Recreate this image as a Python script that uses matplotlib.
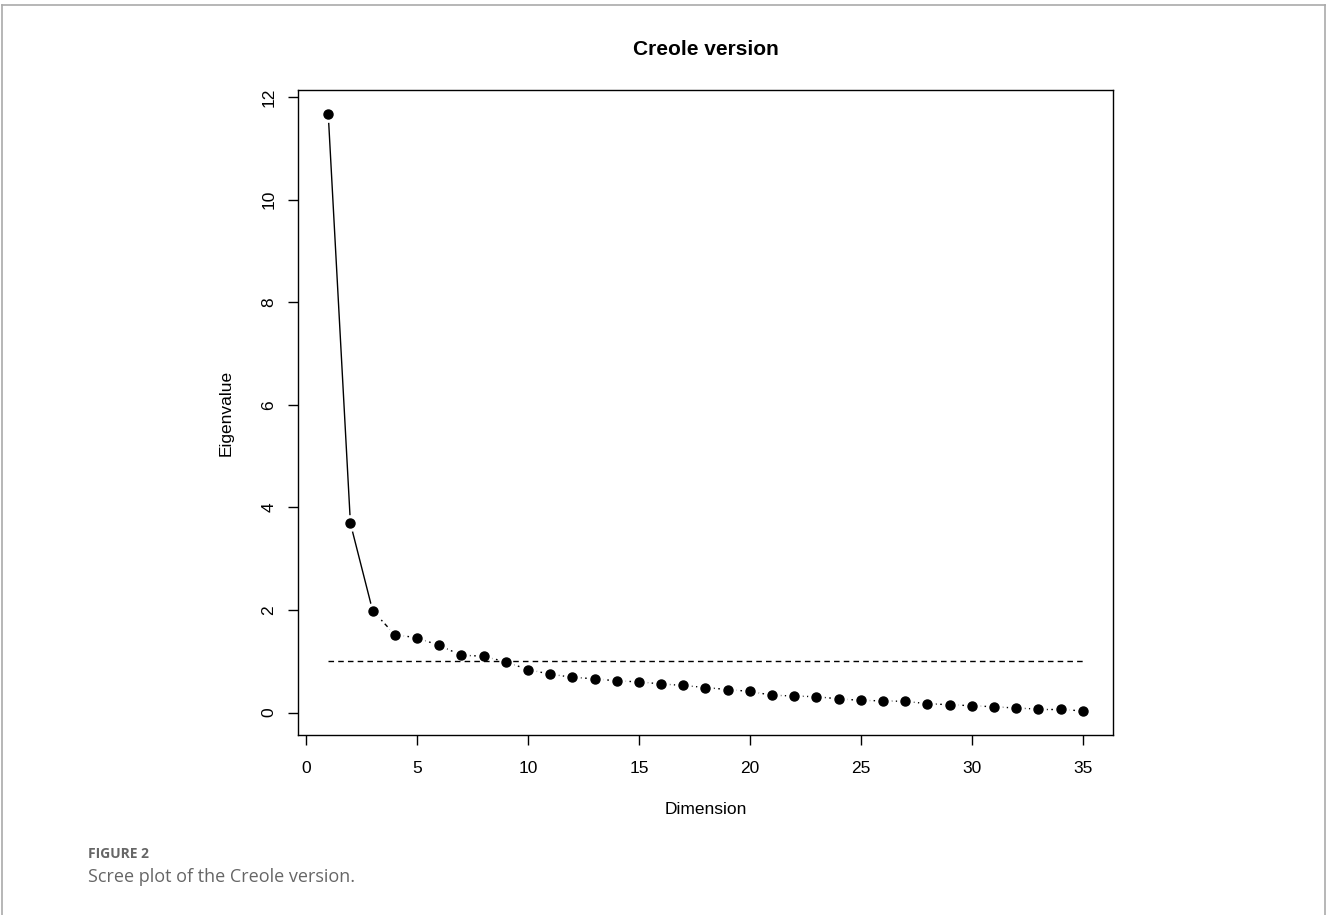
import numpy as np
import matplotlib
matplotlib.use('Agg')
import matplotlib.pyplot as plt
from matplotlib.lines import Line2D

plt.rcParams['font.family'] = ['Liberation Sans', 'DejaVu Sans']

# 数据：特征值
dimension = list(range(1, 36))
eigenvalue = [11.67, 3.69, 1.99, 1.52, 1.46, 1.31, 1.12, 1.10, 0.99, 0.84,
              0.75, 0.69, 0.66, 0.62, 0.60, 0.56, 0.53, 0.49, 0.45, 0.415,
              0.34, 0.325, 0.31, 0.27, 0.24, 0.23, 0.22, 0.175, 0.155, 0.135,
              0.115, 0.09, 0.07, 0.07, 0.03]
cutoff = 1.0
x_ticks = [0, 5, 10, 15, 20, 25, 30, 35]
y_ticks = [0, 2, 4, 6, 8, 10, 12]
title = 'Creole version'
x_label = 'Dimension'
y_label = 'Eigenvalue'
fig_label = 'FIGURE 2'
caption = 'Scree plot of the Creole version.'

fig = plt.figure(figsize=(13.27, 9.15), dpi=100)
ax = fig.add_axes([0.2246, 0.1967, 0.6141, 0.7049])

x = np.array(dimension)
y = np.array(eigenvalue)
# 前两段实线，其余点划线（R type="b" 的效果）
for i in range(len(x) - 1):
    ls = '-' if i < 2 else (0, (1.2, 2.5, 3, 2.5))
    ax.plot(x[i:i+2], y[i:i+2], color='black', lw=1.0, ls=ls, zorder=1)
ax.plot(x, y, 'o', ms=11, color='white', mec='white', zorder=2)
ax.hlines(cutoff, x[0], x[-1], colors='black', lw=1.0, linestyles=(0, (4, 3)), zorder=2.5)
ax.plot(x, y, 'o', ms=6.5, color='black', zorder=3)

xr = x.max() - x.min()
yr = y.max() - y.min()
ax.set_xlim(x.min() - 0.04 * xr, x.max() + 0.04 * xr)
ax.set_ylim(y.min() - 0.04 * yr, y.max() + 0.04 * yr)
ax.set_xticks(x_ticks)
ax.set_yticks(y_ticks)
ax.set_yticklabels([str(v) for v in y_ticks], rotation=90, va='center')
ax.tick_params(direction='out', length=7, width=1, labelsize=12.5)
ax.tick_params(axis='x', pad=11.5)
ax.tick_params(axis='y', pad=8.5)
for s in ax.spines.values():
    s.set_linewidth(1.0)

ax.set_title(title, fontsize=15, fontweight='bold', pad=25)
ax.set_xlabel(x_label, fontsize=12.5, labelpad=19)
ax.set_ylabel(y_label, fontsize=12.5, labelpad=20)

fig.text(88 / 1327, 1 - 854 / 915, fig_label, fontsize=10, color='#666666',
         fontweight='bold', family=['Open Sans', 'DejaVu Sans'], va='center')
fig.text(88 / 1327, 1 - 877 / 915, caption, fontsize=13, color='#666666',
         family=['Open Sans', 'DejaVu Sans'], va='center')

# 外框：上、左、右三边灰线
W, H = 1327, 915
for xs, ys in [([2, 1325], [H - 5, H - 5]), ([2, 2], [0, H - 5]), ([1325, 1325], [0, H - 5])]:
    fig.add_artist(Line2D([v / W for v in xs], [v / H for v in ys],
                          transform=fig.transFigure, color='#aaaaaa', lw=1.2))

fig.savefig('out.png', dpi=100)
